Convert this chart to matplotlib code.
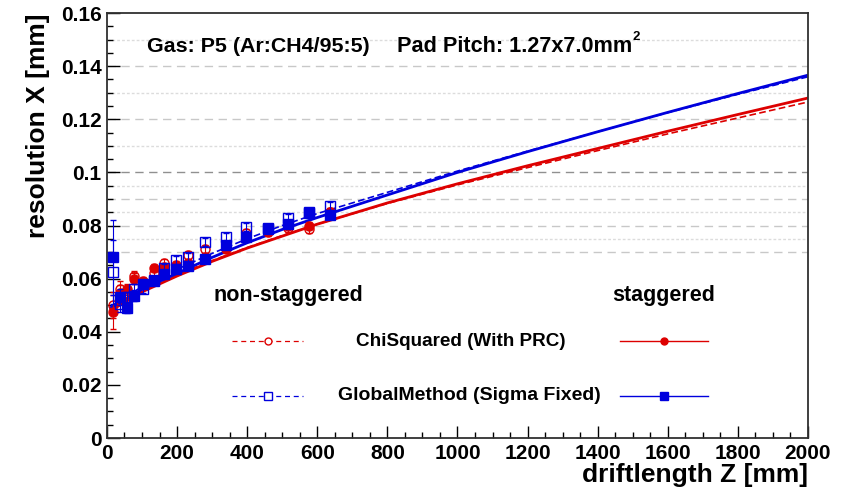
import matplotlib
matplotlib.use("Agg")
import matplotlib.pyplot as plt
from matplotlib.lines import Line2D

# ---- measured resolution points (drift length in mm, resolution in mm) ----
z_pts = [18, 37, 56, 77, 104, 134, 164, 197, 232, 280, 340, 398, 460, 517, 577, 636]

chi_stag = [0.0475, 0.0545, 0.0560, 0.0600, 0.0590, 0.0640, 0.0645, 0.0650, 0.0660, 0.0680,
            0.0710, 0.0760, 0.0780, 0.0800, 0.0800, 0.0850]
chi_stag_err = [0.0065, 0.003, 0.002, 0.002, 0.0015, 0.0015, 0.0015, 0.0015, 0.0015, 0.0015,
                0.0015, 0.0015, 0.0015, 0.0015, 0.0015, 0.0015]

chi_non = [0.0500, 0.0560, 0.0545, 0.0610, 0.0580, 0.0620, 0.0660, 0.0640, 0.0690, 0.0710,
           0.0720, 0.0770, 0.0775, 0.0790, 0.0785, 0.0850]
chi_non_err = [0.005, 0.003, 0.002, 0.002, 0.0015, 0.0015, 0.0015, 0.0015, 0.0015, 0.0015,
               0.0015, 0.0015, 0.0015, 0.0015, 0.0015, 0.0015]

glb_stag = [0.0680, 0.0530, 0.0490, 0.0536, 0.0580, 0.0595, 0.0618, 0.0637, 0.0649, 0.0674,
            0.0725, 0.0756, 0.0788, 0.0806, 0.0848, 0.0838]
glb_stag_err = [0.014, 0.003, 0.002, 0.002, 0.0015, 0.0015, 0.0015, 0.0015, 0.0015, 0.0015,
                0.0015, 0.0015, 0.0015, 0.0015, 0.0015, 0.0015]

glb_non = [0.0626, 0.0505, 0.0530, 0.0561, 0.0561, 0.0590, 0.0640, 0.0670, 0.0680, 0.0737,
           0.0756, 0.0796, 0.0790, 0.0828, 0.0850, 0.0875]
glb_non_err = [0.012, 0.003, 0.002, 0.002, 0.0015, 0.0015, 0.0015, 0.0015, 0.0015, 0.0015,
               0.0015, 0.0015, 0.0015, 0.0015, 0.0015, 0.0015]

# ---- fitted curves sampled along the drift length ----
z_fit = [10, 50, 100, 200, 300, 400, 500, 600, 800, 1000, 1200, 1400, 1600, 1800, 2000]
fit_glb_stag = [0.0490, 0.0520, 0.0560, 0.0620, 0.0680, 0.0735, 0.0785, 0.0830, 0.0915, 0.1000,
                0.1078, 0.1153, 0.1226, 0.1297, 0.1366]
fit_glb_non = [0.0495, 0.0528, 0.0570, 0.0635, 0.0695, 0.0750, 0.0800, 0.0845, 0.0925, 0.1005,
               0.1080, 0.1153, 0.1225, 0.1294, 0.1360]
fit_chi_stag = [0.0480, 0.0510, 0.0550, 0.0610, 0.0665, 0.0715, 0.0760, 0.0805, 0.0885, 0.0957,
                0.1025, 0.1090, 0.1155, 0.1218, 0.1280]
fit_chi_non = [0.0485, 0.0515, 0.0555, 0.0615, 0.0668, 0.0717, 0.0762, 0.0805, 0.0883, 0.0953,
               0.1018, 0.1082, 0.1145, 0.1205, 0.1265]

# ---- axis set-up ----
x_ticks = [0, 200, 400, 600, 800, 1000, 1200, 1400, 1600, 1800, 2000]
y_ticks = [0, 0.02, 0.04, 0.06, 0.08, 0.1, 0.12, 0.14, 0.16]
y_tick_labels = ["0", "0.02", "0.04", "0.06", "0.08", "0.1", "0.12", "0.14", "0.16"]
grid_dashed = [0.07, 0.08, 0.09, 0.12, 0.14]
grid_dotted = [0.075, 0.085, 0.095, 0.11, 0.13, 0.15]

RED = "#dd0000"
BLUE = "#0000dd"
FONT = "Liberation Sans"

fig = plt.figure(figsize=(8.49, 4.97), dpi=100)
ax = fig.add_axes([0.126, 0.1187, 0.8257, 0.8551])

ax.set_xlim(0, 2000)
ax.set_ylim(0, 0.16)

for g in grid_dashed:
    ax.axhline(g, color="#c8c8c8", lw=1.0, ls=(0, (6, 4)), zorder=0)
for g in grid_dotted:
    ax.axhline(g, color="#dcdcdc", lw=1.0, ls=(0, (2, 1.5)), zorder=0)
ax.axhline(0.1, color="#909090", lw=1.0, ls=(0, (6, 4)), zorder=0)

# fit curves
ax.plot(z_fit, fit_chi_non, color=RED, lw=1.2, ls=(0, (4, 2)), zorder=2)
ax.plot(z_fit, fit_chi_stag, color=RED, lw=2.0, zorder=2)
ax.plot(z_fit, fit_glb_non, color=BLUE, lw=1.2, ls=(0, (4, 2)), zorder=2)
ax.plot(z_fit, fit_glb_stag, color=BLUE, lw=2.0, zorder=2)

# measured points with error bars
ax.errorbar(z_pts, chi_non, yerr=chi_non_err, fmt="o", ms=6.5, mfc="none", mec=RED, mew=1.0,
            ecolor=RED, elinewidth=0.8, capsize=2.5, zorder=3)
ax.errorbar(z_pts, chi_stag, yerr=chi_stag_err, fmt="o", ms=6.5, mfc=RED, mec=RED,
            ecolor=RED, elinewidth=0.8, capsize=2.5, zorder=3)
ax.errorbar(z_pts, glb_non, yerr=glb_non_err, fmt="s", ms=7, mfc="none", mec=BLUE, mew=1.0,
            ecolor=BLUE, elinewidth=0.8, capsize=2.5, zorder=4)
ax.errorbar(z_pts, glb_stag, yerr=glb_stag_err, fmt="s", ms=6.5, mfc=BLUE, mec=BLUE,
            ecolor=BLUE, elinewidth=0.8, capsize=2.5, zorder=4)

# ticks
ax.set_xticks(x_ticks)
ax.set_xticks(range(0, 2001, 50), minor=True)
ax.set_yticks(y_ticks)
ax.set_yticklabels(y_tick_labels)
ax.set_yticks([i * 0.005 for i in range(33)], minor=True)
ax.tick_params(which="major", direction="in", length=9, width=1.0, top=False, right=False,
               labelsize=15, pad=4)
ax.tick_params(which="minor", direction="in", length=4.5, width=1.0, top=False, right=False)
for lab in ax.get_xticklabels() + ax.get_yticklabels():
    lab.set_fontfamily(FONT)
    lab.set_fontweight("bold")
for sp in ax.spines.values():
    sp.set_linewidth(1.3)
    sp.set_color("#303030")

ax.set_xlabel("driftlength Z [mm]", fontsize=19, fontweight="bold", family=FONT,
              loc="right", labelpad=0)
ax.set_ylabel("resolution X [mm]", fontsize=19, fontweight="bold", family=FONT,
              loc="top", labelpad=8)

# header
ax.text(114, 0.1475, "Gas: P5 (Ar:CH4/95:5)", fontsize=15.4, fontweight="bold", family=FONT,
        va="center", ha="left")
pitch = ax.text(827, 0.1475, "Pad Pitch: 1.27x7.0mm", fontsize=15.6, fontweight="bold",
                family=FONT, va="center", ha="left")
fig.canvas.draw()
bb = pitch.get_window_extent().transformed(ax.transData.inverted())
ax.text(bb.x1 + 1, 0.1508, "2", fontsize=9.5, fontweight="bold", family=FONT,
        va="center", ha="left")

# legend block
ax.text(305, 0.0535, "non-staggered", fontsize=15.5, fontweight="bold", family=FONT,
        ha="left", va="center")
ax.text(1440, 0.0535, "staggered", fontsize=15.5, fontweight="bold", family=FONT,
        ha="left", va="center")
ax.text(710, 0.0365, "ChiSquared (With PRC)", fontsize=13.6, fontweight="bold", family=FONT,
        ha="left", va="center")
ax.text(659, 0.0160, "GlobalMethod (Sigma Fixed)", fontsize=14, fontweight="bold", family=FONT,
        ha="left", va="center")

leg_rows = [
    (0.0365, RED, "o", 5),
    (0.0160, BLUE, "s", 5.5),
]
for yrow, col, mk, ms in leg_rows:
    ax.add_line(Line2D([358, 558], [yrow, yrow], color=col, lw=0.9, ls=(0, (4, 3))))
    ax.add_line(Line2D([459], [yrow], color=col, marker=mk, ms=ms, mfc="white", mec=col,
                       mew=1.0, ls="none"))
    ax.add_line(Line2D([1464, 1714], [yrow, yrow], color=col, lw=1.0))
    ax.add_line(Line2D([1589], [yrow], color=col, marker=mk, ms=ms, mfc=col, mec=col,
                       ls="none"))

fig.savefig("out.png", dpi=100)
